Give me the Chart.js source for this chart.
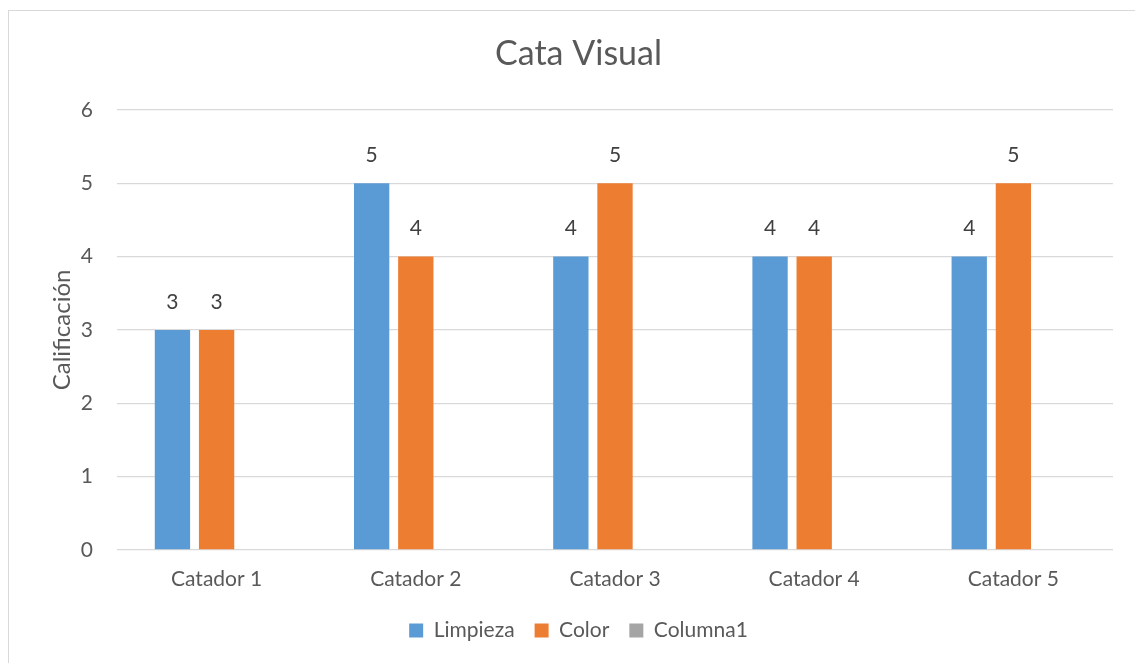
<!DOCTYPE html>
<html>
<head>
<meta charset="utf-8">
<script src="https://cdn.jsdelivr.net/npm/chart.js@4/dist/chart.umd.min.js"></script>
<style>
  body { margin: 0; background: #fff; width: 1135px; height: 663px; overflow: hidden; position: relative; }
  .frame { position: absolute; left: 8px; top: 10px; width: 1140px; height: 670px; border: 1.5px solid #d9d9d9; box-sizing: border-box; }
  canvas { position: absolute; left: 0; top: 0; }
</style>
</head>
<body>
<div class="frame"></div>
<canvas id="chart" width="1135" height="663"></canvas>
<script>
const categories = ['Catador 1', 'Catador 2', 'Catador 3', 'Catador 4', 'Catador 5'];
const limpieza = [3, 5, 4, 4, 4];
const color = [3, 4, 5, 4, 5];
const columna1 = [null, null, null, null, null];

const textColor = '#595959';
const fontFamily = 'Lato, "Open Sans", sans-serif';

// simple value labels above each bar
const valueLabels = {
  id: 'valueLabels',
  afterDatasetsDraw(chart) {
    const ctx = chart.ctx;
    ctx.save();
    ctx.font = '21px ' + fontFamily;
    ctx.fillStyle = '#404040';
    ctx.textAlign = 'center';
    ctx.textBaseline = 'middle';
    chart.data.datasets.forEach((ds, i) => {
      const meta = chart.getDatasetMeta(i);
      meta.data.forEach((bar, j) => {
        const v = ds.data[j];
        if (v === null || v === undefined) return;
        ctx.fillText(String(v), bar.x, bar.y - 28);
      });
    });
    ctx.restore();
  }
};

new Chart(document.getElementById('chart').getContext('2d'), {
  type: 'bar',
  data: {
    labels: categories,
    datasets: [
      { label: 'Limpieza', data: limpieza, backgroundColor: '#5B9BD5' },
      { label: 'Color', data: color, backgroundColor: '#ED7D31' },
      { label: 'Columna1', data: columna1, backgroundColor: '#A5A5A5' }
    ]
  },
  options: {
    responsive: false,
    animation: false,
    categoryPercentage: 0.665,
    barPercentage: 0.8,
    layout: { padding: { left: 44, right: 22, top: 0, bottom: 12 } },
    plugins: {
      title: {
        display: true,
        text: 'Cata Visual',
        color: textColor,
        font: { family: fontFamily, size: 34, weight: 'normal' },
        padding: { top: 34, bottom: 35 }
      },
      legend: {
        position: 'bottom',
        labels: {
          color: textColor,
          font: { family: fontFamily, size: 21 },
          boxWidth: 14,
          boxHeight: 14,
          padding: 20
        }
      },
      tooltip: { enabled: false }
    },
    scales: {
      x: {
        grid: { display: false },
        border: { display: false },
        ticks: { color: textColor, font: { family: fontFamily, size: 21 }, padding: 9 },
        afterFit(s) { s.height = 50; }
      },
      y: {
        min: 0,
        max: 6,
        ticks: { stepSize: 1, color: textColor, font: { family: fontFamily, size: 21 }, padding: 24 },
        grid: { color: '#d9d9d9', lineWidth: 1.3, drawTicks: false },
        border: { display: false },
        title: {
          display: true,
          text: 'Calificación',
          color: textColor,
          font: { family: fontFamily, size: 24 },
          padding: { top: 4, bottom: 0 }
        },
        afterFit(s) { s.width = 73; }
      }
    }
  },
  plugins: [valueLabels]
});
</script>
</body>
</html>
